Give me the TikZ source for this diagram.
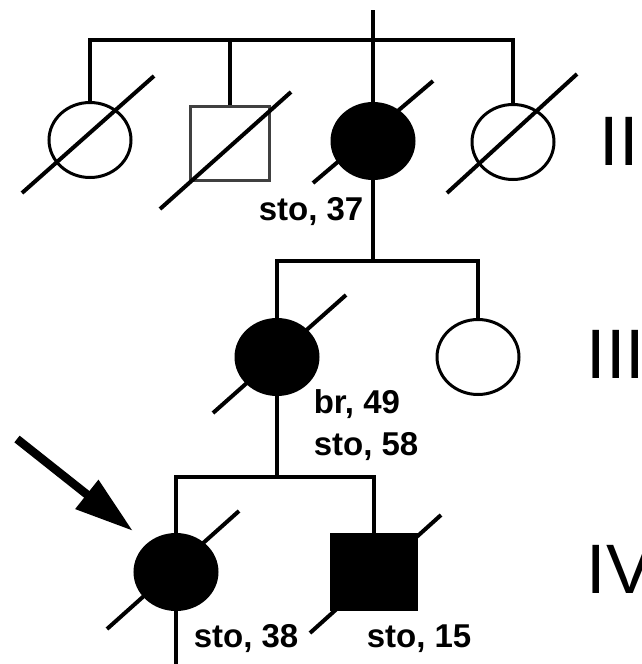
\documentclass[tikz,border=0pt]{standalone}
\usepackage{fontspec}
\setmainfont{Liberation Sans}
\usetikzlibrary{shapes.geometric,arrows.meta,calc}
\begin{document}
\begin{tikzpicture}[x=1pt,y=-1pt,
 line width=3.5pt,
 fem/.style={ellipse,draw,minimum width=82pt,minimum height=75pt,inner sep=0pt,line width=3pt},
 mal/.style={rectangle,draw,inner sep=0pt,line width=3pt},
 aff/.style={fill=black},
 lbl/.style={font=\bfseries\fontsize{33}{36}\selectfont,anchor=base west,inner sep=0pt},
 gen/.style={font=\fontsize{70}{72}\selectfont,anchor=base west,inner sep=0pt},
 sl/.style={line width=4pt}]
\useasboundingbox (0,0) rectangle (642,664);
\fill[white] (0,0) rectangle (642,664);
% generation II
\node[fem] (c1) at (90,140) {};
\node[mal,draw=black!75,minimum width=79pt,minimum height=74pt] (sq) at (230,143) {};
\node[fem,aff] (c3) at (373,141) {};
\node[fem] (c4) at (513,142) {};
\coordinate (top) at (373,10);
\coordinate (sibII) at (373,40);
\draw (c1.north) |- (sibII) -| (c4.north);
\draw (sq.north) -- (sq.north |- sibII);
\draw (c3.north) -- (sibII);
\draw (top) -- (sibII);
\draw[sl] ([shift={(-68,53)}]c1.center) -- ([shift={(64,-64)}]c1.center);
\draw[sl] ([shift={(-70,66)}]sq.center) -- ([shift={(61,-51)}]sq.center);
\draw[sl] ([shift={(-60,42)}]c3.center) -- ([shift={(60,-60)}]c3.center);
\draw[sl] ([shift={(-66,51)}]c4.center) -- ([shift={(64,-68)}]c4.center);
\node[lbl] (t37) at (257,220) {sto, 37};
\node[gen] (gII) at (598,165) {II};
% generation III
\node[fem,aff] (d1) at (277,357) {};
\node[fem] (d2) at (478,357) {};
\coordinate (sibIII) at (373,261);
\draw (c3.south) -- (sibIII);
\draw (d1.north) |- (sibIII) -| (d2.north);
\draw[sl] ([shift={(-64,56)}]d1.center) -- ([shift={(69,-62)}]d1.center);
\node[lbl] (t49) at (312,413) {br, 49};
\node[lbl] (t58) at (312,455) {sto, 58};
\node[gen] (gIII) at (585,378) {III};
% generation IV
\node[fem,aff] (e1) at (176,572) {};
\node[mal,aff,minimum width=85pt,minimum height=75pt] (e2) at (374,572) {};
\coordinate (sibIV) at (277,477);
\draw (d1.south) -- (sibIV);
\draw (e1.north) |- (sibIV) -| (e2.north);
\coordinate (bot) at (176,664);
\draw (e1.south) -- (bot);
\draw[sl] ([shift={(-69,57)}]e1.center) -- ([shift={(63,-61)}]e1.center);
\draw[sl] ([shift={(-64,61)}]e2.center) -- ([shift={(67,-57)}]e2.center);
\node[lbl] (t38) at (192,647) {sto, 38};
\node[lbl] (t15) at (365,647) {sto, 15};
\node[gen] (gIV) at (585,593) {IV};
% proband arrow
\coordinate (arrS) at (17,439);
\coordinate (arrT) at (133,531);
\draw[line width=8.5pt,-{Triangle[length=59pt,width=35pt]}] (arrS) -- (arrT);
\end{tikzpicture}
\end{document}
